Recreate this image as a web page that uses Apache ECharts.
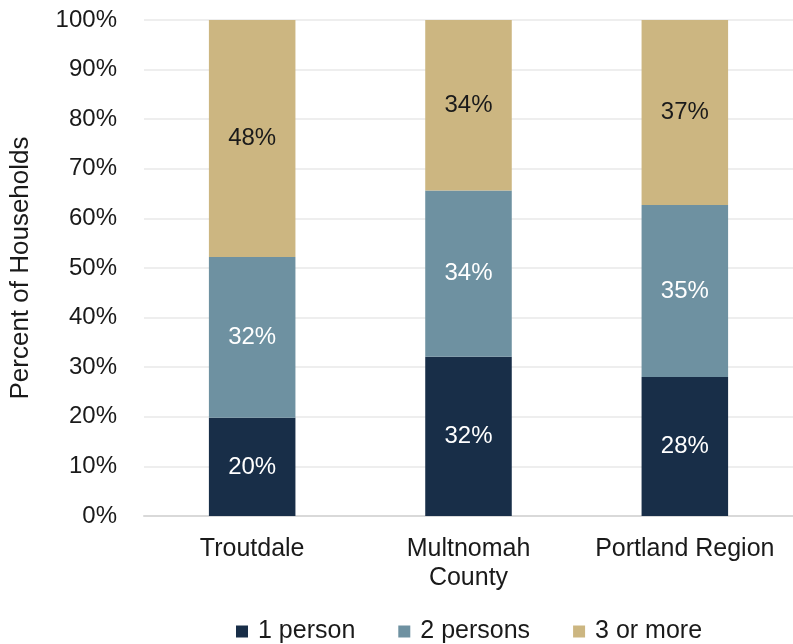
<!DOCTYPE html>
<html><head><meta charset="utf-8">
<script src="https://cdn.jsdelivr.net/npm/echarts@6/dist/echarts.min.js"></script>
<style>html,body{margin:0;padding:0;background:#fff}#c{width:793px;height:644px}</style>
</head><body><div id="c"></div>
<script>
var categories = ['Troutdale', 'Multnomah\nCounty', 'Portland Region'];
var seriesNames = ['1 person', '2 persons', '3 or more'];
var onePerson = [19.8, 32.1, 28.0];
var twoPersons = [32.4, 33.5, 34.7];
var threeOrMore = [47.8, 34.4, 37.3];
var yTicks = [0, 10, 20, 30, 40, 50, 60, 70, 80, 90, 100];

var colors = ['#182e48', '#6e91a1', '#ccb681'];
var labelColors = ['#ffffff', '#ffffff', '#1a1a1a'];
var font = 'Liberation Sans';
var values = [onePerson, twoPersons, threeOrMore];

var chart = echarts.init(document.getElementById('c'));
chart.setOption({
  animation: false,
  grid: { left: 143, top: 20, width: 655, height: 496, containLabel: false },
  legend: {
    top: 614, left: 231, itemWidth: 12, itemHeight: 12, itemGap: 43,
    icon: 'rect',
    textStyle: { fontFamily: font, fontSize: 25, color: '#1a1a1a', padding: [0, 0, 0, 5] },
    data: seriesNames
  },
  xAxis: {
    type: 'category', data: categories,
    axisLine: { lineStyle: { color: '#d9d9d9', width: 2 } },
    axisTick: { show: false },
    axisLabel: { fontFamily: font, fontSize: 25, color: '#1a1a1a', margin: 19, lineHeight: 29, interval: 0 }
  },
  yAxis: {
    type: 'value', min: yTicks[0], max: yTicks[yTicks.length - 1], interval: 10,
    name: 'Percent of Households', nameLocation: 'middle', nameGap: 110,
    nameTextStyle: { fontFamily: font, fontSize: 26, color: '#1a1a1a' },
    axisLine: { show: false }, axisTick: { show: false },
    splitLine: { lineStyle: { color: '#eeeeee', width: 2 } },
    axisLabel: { fontFamily: font, fontSize: 24, color: '#1a1a1a', margin: 27, formatter: '{value}%' }
  },
  series: seriesNames.map(function (n, i) {
    return {
      name: n, type: 'bar', stack: 'total', barWidth: '40%',
      itemStyle: { color: colors[i] },
      label: {
        show: true, position: 'inside', fontFamily: font, fontSize: 24, color: labelColors[i],
        formatter: function (p) { return Math.round(p.value) + '%'; }
      },
      data: values[i]
    };
  })
});
</script></body></html>
